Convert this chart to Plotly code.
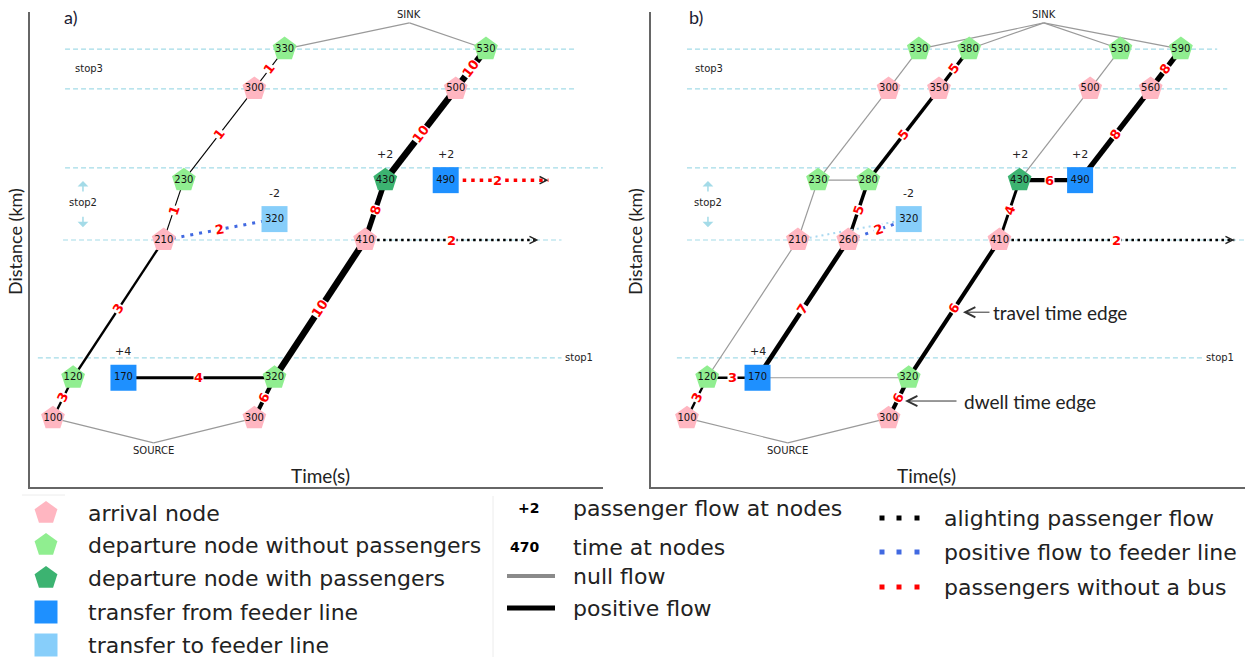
import math
import plotly.graph_objects as go

FIG_W, FIG_H = 1250, 659

# distance (km) of every layer of the time-space network
LEVELS = {
    "src": 9.3, "arr1": 14.5, "dep1": 23.0, "arr2": 52.0, "feed2": 56.4,
    "dep2": 64.6, "arr3": 83.8, "dep3": 92.2, "snk": 97.7,
}
SOURCE = (200, "src")
SINK = (454, "snk")

# ---------------- panel a) ----------------
A_ARRIVAL = [(100, "arr1"), (300, "arr1"), (210, "arr2"), (410, "arr2"), (300, "arr3"), (500, "arr3")]
A_DEP_EMPTY = [(120, "dep1"), (320, "dep1"), (230, "dep2"), (330, "dep3"), (530, "dep3")]
A_DEP_PAX = [(430, "dep2")]
A_FROM_FEEDER = [(170, "dep1"), (490, "dep2")]
A_TO_FEEDER = [(320, "feed2")]
A_NODE_FLOW = [((170, "dep1"), "+4"), ((430, "dep2"), "+2"), ((490, "dep2"), "+2"), ((320, "feed2"), "-2")]
A_NULL_EDGES = [(SOURCE, (100, "arr1")), (SOURCE, (300, "arr1")),
                ((330, "dep3"), SINK), ((530, "dep3"), SINK)]
A_FLOW_EDGES = [
    ((100, "arr1"), (120, "dep1"), 3),
    ((120, "dep1"), (210, "arr2"), 3),
    ((210, "arr2"), (230, "dep2"), 1),
    ((230, "dep2"), (300, "arr3"), 1),
    ((300, "arr3"), (330, "dep3"), 1),
    ((170, "dep1"), (320, "dep1"), 4),
    ((300, "arr1"), (320, "dep1"), 6),
    ((320, "dep1"), (410, "arr2"), 10),
    ((410, "arr2"), (430, "dep2"), 8),
    ((430, "dep2"), (500, "arr3"), 10),
    ((500, "arr3"), (530, "dep3"), 10),
]
A_DOTTED = [
    ((210, "arr2"), (320, "feed2"), 2, "feeder"),
    ((490, "dep2"), (592, "dep2"), 2, "nobus"),
    ((410, "arr2"), (582, "arr2"), 2, "alight"),
]

# ---------------- panel b) ----------------
B_ARRIVAL = [(100, "arr1"), (300, "arr1"), (210, "arr2"), (260, "arr2"), (410, "arr2"),
             (300, "arr3"), (350, "arr3"), (500, "arr3"), (560, "arr3")]
B_DEP_EMPTY = [(120, "dep1"), (320, "dep1"), (230, "dep2"), (280, "dep2"),
               (330, "dep3"), (380, "dep3"), (530, "dep3"), (590, "dep3")]
B_DEP_PAX = [(430, "dep2")]
B_FROM_FEEDER = [(170, "dep1"), (490, "dep2")]
B_TO_FEEDER = [(320, "feed2")]
B_NODE_FLOW = [((170, "dep1"), "+4"), ((430, "dep2"), "+2"), ((490, "dep2"), "+2"), ((320, "feed2"), "-2")]
B_NULL_EDGES = [
    (SOURCE, (100, "arr1")), (SOURCE, (300, "arr1")),
    ((120, "dep1"), (210, "arr2")), ((170, "dep1"), (320, "dep1")),
    ((210, "arr2"), (230, "dep2")), ((230, "dep2"), (280, "dep2")), ((230, "dep2"), (300, "arr3")),
    ((300, "arr3"), (330, "dep3")), ((330, "dep3"), SINK), ((380, "dep3"), SINK),
    ((430, "dep2"), (500, "arr3")), ((500, "arr3"), (530, "dep3")),
    ((530, "dep3"), SINK), ((590, "dep3"), SINK),
]
B_FLOW_EDGES = [
    ((100, "arr1"), (120, "dep1"), 3),
    ((120, "dep1"), (170, "dep1"), 3),
    ((170, "dep1"), (260, "arr2"), 7),
    ((260, "arr2"), (280, "dep2"), 5),
    ((280, "dep2"), (350, "arr3"), 5),
    ((350, "arr3"), (380, "dep3"), 5),
    ((300, "arr1"), (320, "dep1"), 6),
    ((320, "dep1"), (410, "arr2"), 6),
    ((410, "arr2"), (430, "dep2"), 4),
    ((430, "dep2"), (490, "dep2"), 6),
    ((490, "dep2"), (560, "arr3"), 8),
    ((560, "arr3"), (590, "dep3"), 8),
]
B_DOTTED = [
    ((210, "arr2"), (320, "feed2"), None, "feeder_null"),
    ((260, "arr2"), (320, "feed2"), 2, "feeder"),
    ((410, "arr2"), (643, "arr2"), 2, "alight"),
]

# stop reference lines: distance and time span per panel
STOP_LINE_LEVELS = [92.2, 83.8, 67.2, 52.0, 27.2]
A_STOP_LINE_SPANS = [(112, 620), (112, 619), (112, 646), (110, 605), (85, 605)]
B_STOP_LINE_SPANS = [(100, 626), (100, 636), (100, 646), (100, 654), (90, 612)]

# legend entries
LEGEND_NODES = ["arrival node", "departure node without passengers",
                "departure node with passengers", "transfer from feeder line",
                "transfer to feeder line"]
LEGEND_LABELS = [("+2", "passenger flow at nodes"), ("470", "time at nodes")]
LEGEND_EDGES = ["null flow", "positive flow"]
LEGEND_DOTTED = ["alighting passenger flow", "positive flow to feeder line",
                 "passengers without a bus"]

# ---------------- styling ----------------
C_ARR = "#ffb6c1"
C_DEP = "#90ee90"
C_DEP_PAX = "#3cb371"
C_FROM = "#1e90ff"
C_TO = "#87cefa"
C_STOP = "#a4dbe8"
C_NULL = "#9a9a9a"
DOT_STYLE = {
    "feeder": dict(color="#4169e1", width=3, dash="3px,6px"),
    "feeder_null": dict(color="#a8d8f0", width=2, dash="2px,4px"),
    "nobus": dict(color="#ff0000", width=3.5, dash="3.5px,5px"),
    "alight": dict(color="#000000", width=2.5, dash="2.5px,3.5px"),
}
NODE_FONT = dict(family="DejaVu Sans", size=10, color="#111")
WORD_FONT = "Lato"

Y_RANGE = [0, 100]
Y_DOMAIN = [1 - 487 / FIG_H, 1 - 12 / FIG_H]
PANELS = [
    dict(key="a", xa="x", ya="y", dom=[30 / FIG_W, 603 / FIG_W], rng=[77.2, 646.2],
         arrival=A_ARRIVAL, dep=A_DEP_EMPTY, pax=A_DEP_PAX, frm=A_FROM_FEEDER, to=A_TO_FEEDER,
         flow=A_NODE_FLOW, null=A_NULL_EDGES, edges=A_FLOW_EDGES, dotted=A_DOTTED,
         spans=A_STOP_LINE_SPANS, stop3=(135.7, 88.2), stop2=(129.8, 59.8), stop1=606.5,
         letter=(70, 17), tx=320, dx=15),
    dict(key="b", xa="x2", ya="y2", dom=[651 / FIG_W, 1245 / FIG_W], rng=[64.3, 653.6],
         arrival=B_ARRIVAL, dep=B_DEP_EMPTY, pax=B_DEP_PAX, frm=B_FROM_FEEDER, to=B_TO_FEEDER,
         flow=B_NODE_FLOW, null=B_NULL_EDGES, edges=B_FLOW_EDGES, dotted=B_DOTTED,
         spans=B_STOP_LINE_SPANS, stop3=(121.8, 88.2), stop2=(120.8, 59.8), stop1=612.9,
         letter=(696, 17), tx=926, dx=635),
]


def pt(node):
    t, lvl = node
    return t, LEVELS[lvl]


def width_for(flow):
    return 0.5 + 0.6 * flow


fig = go.Figure()
annotations = []

for p in PANELS:
    xa, ya = p["xa"], p["ya"]
    ppx = (p["dom"][1] - p["dom"][0]) * FIG_W / (p["rng"][1] - p["rng"][0])
    ppy = (Y_DOMAIN[1] - Y_DOMAIN[0]) * FIG_H / (Y_RANGE[1] - Y_RANGE[0])

    def label_angle(a, b):
        (x0, y0), (x1, y1) = pt(a), pt(b)
        ang = -math.degrees(math.atan2((y1 - y0) * ppy, (x1 - x0) * ppx))
        if ang < -90:
            ang += 180
        if ang > 90:
            ang -= 180
        return ang

    def edge_label(a, b, flow):
        (x0, y0), (x1, y1) = pt(a), pt(b)
        annotations.append(dict(
            x=(x0 + x1) / 2, y=(y0 + y1) / 2, xref=xa, yref=ya, showarrow=False,
            text=f"<b>{flow}</b>", textangle=label_angle(a, b),
            font=dict(family="DejaVu Sans", size=13, color="#ff0000"),
            bgcolor="white", borderpad=0))

    # dashed stop levels
    for lvl, (t0, t1) in zip(STOP_LINE_LEVELS, p["spans"]):
        fig.add_trace(go.Scatter(x=[t0, t1], y=[lvl, lvl], xaxis=xa, yaxis=ya, mode="lines",
                                 line=dict(color=C_STOP, width=1.2, dash="5px,3px"),
                                 hoverinfo="skip"))

    # null-flow edges
    for a, b in p["null"]:
        (x0, y0), (x1, y1) = pt(a), pt(b)
        fig.add_trace(go.Scatter(x=[x0, x1], y=[y0, y1], xaxis=xa, yaxis=ya, mode="lines",
                                 line=dict(color=C_NULL, width=1.2), hoverinfo="skip"))

    # positive-flow edges
    for a, b, flow in p["edges"]:
        (x0, y0), (x1, y1) = pt(a), pt(b)
        fig.add_trace(go.Scatter(x=[x0, x1], y=[y0, y1], xaxis=xa, yaxis=ya, mode="lines",
                                 line=dict(color="black", width=width_for(flow)),
                                 hoverinfo="skip"))
        edge_label(a, b, flow)

    # dotted passenger flows
    for a, b, flow, kind in p["dotted"]:
        (x0, y0), (x1, y1) = pt(a), pt(b)
        st = DOT_STYLE[kind]
        fig.add_trace(go.Scatter(x=[x0, x1], y=[y0, y1], xaxis=xa, yaxis=ya, mode="lines",
                                 line=st, hoverinfo="skip"))
        if kind in ("nobus", "alight"):
            annotations.append(dict(x=x1, y=y1, xref=xa, yref=ya, ax=-6, ay=0, text="",
                                    showarrow=True, arrowhead=5, arrowsize=1.3,
                                    arrowwidth=1.1, arrowcolor="#222"))
        if flow is not None:
            edge_label(a, b, flow)

    # nodes
    groups = [(p["arrival"], "pentagon", C_ARR, 25), (p["dep"], "pentagon", C_DEP, 25),
              (p["pax"], "pentagon", C_DEP_PAX, 25), (p["frm"], "square", C_FROM, 26),
              (p["to"], "square", C_TO, 26)]
    for nodes, sym, col, size in groups:
        xs = [pt(n)[0] for n in nodes]
        ys = [pt(n)[1] for n in nodes]
        fig.add_trace(go.Scatter(x=xs, y=ys, xaxis=xa, yaxis=ya, mode="markers+text",
                                 marker=dict(symbol=sym, size=size, color=col, line=dict(width=0)),
                                 text=[str(n[0]) for n in nodes], textposition="middle center",
                                 textfont=NODE_FONT, cliponaxis=False, hoverinfo="skip"))

    # passenger flow at nodes
    for node, txt in p["flow"]:
        x, y = pt(node)
        annotations.append(dict(x=x, y=y, xref=xa, yref=ya, yshift=26, text=txt,
                                showarrow=False, font=dict(family="DejaVu Sans", size=11, color="#222")))

    # source / sink
    sx, sy = pt(SOURCE)
    annotations.append(dict(x=sx, y=sy, xref=xa, yref=ya, yshift=-8, text="SOURCE", showarrow=False,
                            font=dict(family="DejaVu Sans", size=10, color="#222")))
    kx, ky = pt(SINK)
    annotations.append(dict(x=kx, y=ky, xref=xa, yref=ya, yshift=8, text="SINK", showarrow=False,
                            font=dict(family="DejaVu Sans", size=10, color="#222")))

    # stop names
    small = dict(family="DejaVu Sans", size=10, color="#222")
    annotations.append(dict(x=p["stop3"][0], y=p["stop3"][1], xref=xa, yref=ya, text="stop3",
                            showarrow=False, font=small))
    annotations.append(dict(x=p["stop2"][0], y=p["stop2"][1], xref=xa, yref=ya, text="stop2",
                            showarrow=False, font=small))
    annotations.append(dict(x=p["stop1"], y=STOP_LINE_LEVELS[-1], xref=xa, yref=ya, text="stop1",
                            xanchor="left", showarrow=False, font=small))
    for tip, ay in ((64.4, 12), (54.7, -12)):
        annotations.append(dict(x=p["stop2"][0], y=tip, xref=xa, yref=ya, ax=0, ay=ay, text="",
                                showarrow=True, arrowhead=1, arrowsize=1.2, arrowwidth=1.5,
                                arrowcolor=C_STOP))

    # panel letter and axis words
    centered = dict(xref="paper", yref="paper", xanchor="center", yanchor="middle", showarrow=False)
    annotations.append(dict(x=p["letter"][0] / FIG_W, y=1 - p["letter"][1] / FIG_H,
                            text=p["key"] + ")", font=dict(family=WORD_FONT, size=18, color="#1b1b33"),
                            **centered))
    annotations.append(dict(x=p["tx"] / FIG_W, y=1 - 475 / FIG_H, text="Time(s)",
                            font=dict(family=WORD_FONT, size=19, color="#222"), **centered))
    annotations.append(dict(x=p["dx"] / FIG_W, y=1 - 242 / FIG_H, text="Distance (km)", textangle=-90,
                            font=dict(family=WORD_FONT, size=18, color="#222"), **centered))

    axis_common = dict(showgrid=False, zeroline=False, showticklabels=False, ticks="",
                       showline=True, linecolor="#666", linewidth=1.5, fixedrange=True)
    xname = "xaxis" if xa == "x" else "xaxis2"
    yname = "yaxis" if ya == "y" else "yaxis2"
    fig.update_layout(**{
        xname: dict(domain=p["dom"], range=p["rng"], anchor=ya, **axis_common),
        yname: dict(domain=Y_DOMAIN, range=Y_RANGE, anchor=xa, **axis_common),
    })

# explanatory arrows in panel b
annotations.append(dict(x=373.8, y=36.8, xref="x2", yref="y2", ax=28, ay=0, text="",
                        showarrow=True, arrowhead=5, arrowsize=2, arrowwidth=1, arrowcolor="#333"))
annotations.append(dict(x=401.6, y=36.8, xref="x2", yref="y2", xanchor="left", text="travel time edge",
                        showarrow=False, font=dict(family=WORD_FONT, size=19, color="#222")))
annotations.append(dict(x=316.3, y=18.1, xref="x2", yref="y2", ax=53, ay=0, text="",
                        showarrow=True, arrowhead=5, arrowsize=2, arrowwidth=1, arrowcolor="#333"))
annotations.append(dict(x=372.8, y=18.1, xref="x2", yref="y2", xanchor="left", text="dwell time edge",
                        showarrow=False, font=dict(family=WORD_FONT, size=19, color="#222")))

# ---------------- legend (pixel-scaled helper axes) ----------------
LX, LY = "x3", "y3"
leg_font = dict(family="DejaVu Sans", size=22, color="#222")
node_rows = [513, 545, 578, 612, 645]
node_styles = [("pentagon", C_ARR, 24), ("pentagon", C_DEP, 24), ("pentagon", C_DEP_PAX, 24),
               ("square", C_FROM, 23), ("square", C_TO, 23)]
for yy, (sym, col, size), txt in zip(node_rows, node_styles, LEGEND_NODES):
    fig.add_trace(go.Scatter(x=[46], y=[yy], xaxis=LX, yaxis=LY, mode="markers",
                             marker=dict(symbol=sym, size=size, color=col, line=dict(width=0)),
                             cliponaxis=False, hoverinfo="skip"))
    annotations.append(dict(x=86, y=yy, xref=LX, yref=LY, xanchor="left", text=txt,
                            showarrow=False, font=leg_font))

for yy, (sample, txt) in zip([508, 547], LEGEND_LABELS):
    annotations.append(dict(x=541, y=yy, xref=LX, yref=LY, xanchor="right", text=f"<b>{sample}</b>",
                            showarrow=False, font=dict(family="DejaVu Sans", size=14, color="#000")))
    annotations.append(dict(x=571, y=yy, xref=LX, yref=LY, xanchor="left", text=txt,
                            showarrow=False, font=leg_font))
for yy, (col, wd), txt in zip([576, 608], [("#8a8a8a", 4), ("#000", 5)], LEGEND_EDGES):
    fig.add_trace(go.Scatter(x=[507, 555], y=[yy, yy], xaxis=LX, yaxis=LY, mode="lines",
                             line=dict(color=col, width=wd), hoverinfo="skip"))
    annotations.append(dict(x=571, y=yy, xref=LX, yref=LY, xanchor="left", text=txt,
                            showarrow=False, font=leg_font))

for yy, col, txt in zip([518, 552, 587], ["#000", "#4169e1", "#ff0000"], LEGEND_DOTTED):
    fig.add_trace(go.Scatter(x=[882, 899, 917], y=[yy, yy, yy], xaxis=LX, yaxis=LY, mode="markers",
                             marker=dict(symbol="square", size=5, color=col, line=dict(width=0)),
                             hoverinfo="skip"))
    annotations.append(dict(x=942, y=yy, xref=LX, yref=LY, xanchor="left", text=txt,
                            showarrow=False, font=leg_font))

# faint frame edges around the legend block
for xs, ys in (([493, 493], [496, 657]), ([22, 65], [495, 495])):
    fig.add_trace(go.Scatter(x=xs, y=ys, xaxis=LX, yaxis=LY, mode="lines",
                             line=dict(color="#ececec", width=1), hoverinfo="skip"))

hidden = dict(visible=False, fixedrange=True)
fig.update_layout(
    width=FIG_W, height=FIG_H,
    margin=dict(l=0, r=0, t=0, b=0),
    paper_bgcolor="white", plot_bgcolor="rgba(0,0,0,0)",
    showlegend=False,
    xaxis3=dict(domain=[0, 1], range=[0, FIG_W], anchor=LY, **hidden),
    yaxis3=dict(domain=[0, 168 / FIG_H], range=[FIG_H, FIG_H - 168], anchor=LX, **hidden),
    annotations=annotations,
)

fig.write_html("out.html")
